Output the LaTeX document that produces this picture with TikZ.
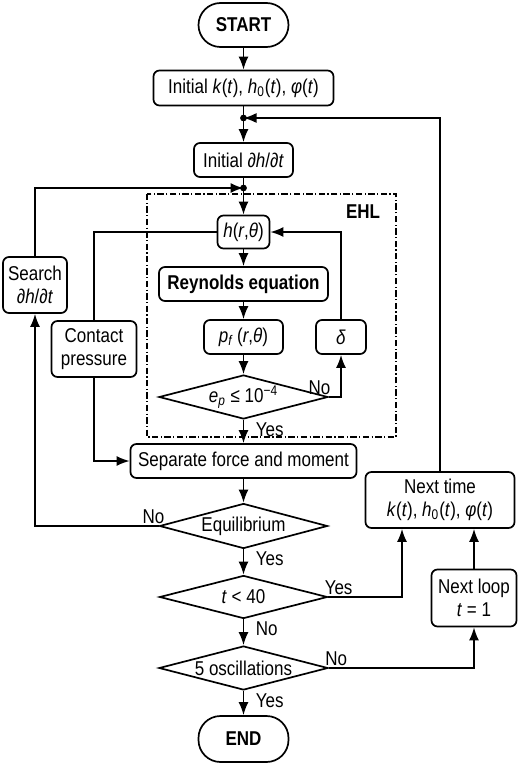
\documentclass[tikz,border=0pt]{standalone}
\usepackage{fontspec}
\setmainfont[FakeStretch=0.85]{Liberation Sans}
\usetikzlibrary{shapes.geometric,arrows.meta}

\tikzset{
	blk/.style={draw,rounded corners=3pt,inner sep=1pt,align=center,line width=0.85pt},
	term/.style={draw,rounded corners=11pt,minimum width=45pt,minimum height=22pt,font=\bfseries,line width=0.85pt},
	dec/.style={draw,diamond,aspect=3.8,inner sep=0pt,minimum width=84pt,minimum height=22pt,line width=0.85pt},
	arr/.style={-{Latex[length=6.5pt,width=5pt]},line width=0.85pt},
	lne/.style={line width=0.85pt},
	lbl/.style={inner sep=1pt}
}

\begin{document}
\begin{tikzpicture}[x=0.5pt,y=-0.5pt,font=\fontsize{10}{11.5}\selectfont]
	\useasboundingbox (0,0) rectangle (520,765);
	\node[term] (start) at (243.5,25) {START};
	\node[blk,minimum width=90pt,minimum height=17.5pt] (init) at (243.5,88) {Initial \textit{k}(\textit{t}), \textit{h}\textsubscript{0}(\textit{t}), \textit{φ}(\textit{t})};
	\coordinate (dotA) at (243.5,118);
	\node[blk,minimum width=49.5pt,minimum height=17pt] (initdh) at (243.5,160) {Initial \textit{∂h}/\textit{∂t}};
	\coordinate (dotB) at (243.5,188);
	\draw[dash pattern=on 3.2pt off 1.2pt on 0.6pt off 1.2pt,line width=0.6pt] (147,194) rectangle (396,437);
	\node[font=\bfseries] (ehl) at (363,212) {EHL};
	\node[blk,minimum width=26pt,minimum height=16.5pt] (hrt) at (243.5,232) {\textit{h}(\textit{r},\textit{θ})};
	\node[blk,minimum width=84.5pt,minimum height=17pt,font=\bfseries] (reyn) at (243.5,284) {Reynolds equation};
	\node[blk,minimum width=39.5pt,minimum height=17pt] (pf) at (243.5,337) {\textit{p}\textsubscript{\textit{f}}\,(\textit{r},\textit{θ})};
	\node[blk,minimum width=25pt,minimum height=17pt] (delta) at (341,337) {\textit{δ}};
	\node[dec,minimum width=84.5pt] (ep) at (243.5,397) {\textit{e}\textsubscript{\textit{p}} ≤ 10\textsuperscript{−4}};
	\node[blk,minimum width=42.5pt,minimum height=28pt] (contact) at (94,349) {Contact\\pressure};
	\node[blk,minimum width=113pt,minimum height=17pt] (sep) at (243.5,461) {Separate force and moment};
	\node[dec,minimum height=22.5pt] (equil) at (243.5,526) {Equilibrium};
	\node[blk,minimum width=32pt,minimum height=28pt] (search) at (35,285) {Search\\\textit{∂h}/\textit{∂t}};
	\node[dec,minimum height=21.5pt] (tlt) at (243.5,597) {\textit{t} < 40};
	\node[blk,minimum width=74.5pt,minimum height=28pt] (nexttime) at (440,500) {Next time\\\textit{k}(\textit{t}), \textit{h}\textsubscript{0}(\textit{t}), \textit{φ}(\textit{t})};
	\node[dec,minimum width=84.5pt] (osc) at (243.5,668) {5 oscillations};
	\node[blk,minimum width=42.5pt,minimum height=28.5pt] (nextloop) at (474,598) {Next loop\\\textit{t} = 1};
	\node[term,minimum height=23pt] (end) at (243.5,739) {END};

	\draw[arr] (start) -- (init);
	\draw[arr] (init) -- (initdh);
	\draw[arr] (initdh) -- (hrt);
	\draw[arr] (hrt) -- (reyn);
	\draw[arr] (reyn) -- (pf);
	\draw[arr] (pf) -- (ep);
	\draw[arr] (ep.east) -| (delta.south);
	\draw[arr] (delta.north) |- (hrt.east);
	\draw[lne] (hrt.west) -| (contact.north);
	\draw[arr] (contact.south) |- (sep.west);
	\draw[arr] (ep.south) -- (sep.north);
	\draw[arr] (sep) -- (equil);
	\draw[arr] (equil.west) -| (search.south);
	\draw[arr] (search.north) |- (dotB);
	\draw[arr] (equil) -- (tlt);
	\draw[arr] (tlt.east) -| ([xshift=-19pt]nexttime.south);
	\draw[arr] (nexttime.north) |- (dotA);
	\draw[arr] (tlt) -- (osc);
	\draw[arr] (osc.east) -| (nextloop.south);
	\draw[arr] (nextloop.north) -- (nextloop.north |- nexttime.south);
	\draw[arr] (osc) -- (end);
	\fill (dotA) circle (1.7pt);
	\fill (dotB) circle (1.7pt);

	\node[lbl,anchor=south east] (noep) at ([xshift=2pt]ep.east) {No};
	\node[lbl,anchor=north west] (yesep) at ([xshift=5pt]ep.south) {Yes};
	\node[lbl,anchor=south east] (noeq) at ([xshift=4pt]equil.west) {No};
	\node[lbl,anchor=north west] (yeseq) at ([xshift=5pt]equil.south) {Yes};
	\node[lbl,anchor=south west] (yest) at ([xshift=-3pt]tlt.east) {Yes};
	\node[lbl,anchor=north west] (not) at ([xshift=5pt]tlt.south) {No};
	\node[lbl,anchor=south west] (noosc) at ([xshift=-3pt]osc.east) {No};
	\node[lbl,anchor=north west] (yesosc) at ([xshift=5pt]osc.south) {Yes};
\end{tikzpicture}
\end{document}
